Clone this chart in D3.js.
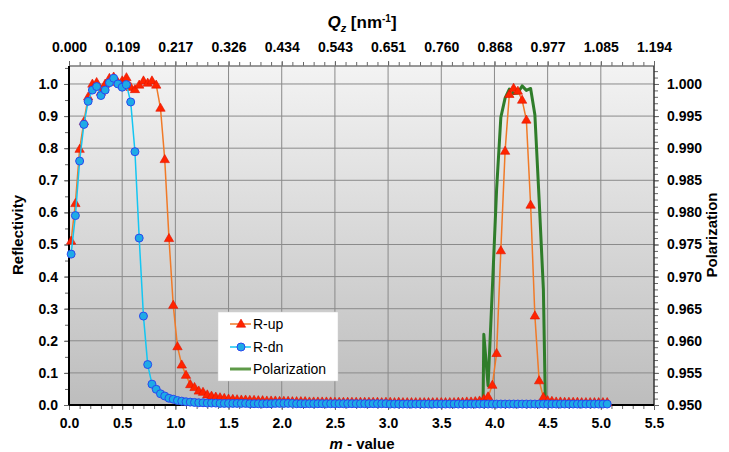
<!DOCTYPE html>
<html>
<head>
<meta charset="utf-8">
<script src="https://cdn.jsdelivr.net/npm/d3@7"></script>
<style>
  body { margin: 0; background: #fff; }
  svg text { font-family: "Liberation Sans", Arial, Helvetica, sans-serif; fill: #000; }
  .tick text { font-weight: bold; font-size: 14px; }
  .tick line { stroke: #666; }
  .domain { display: none; }
</style>
</head>
<body>
<div class="chart"></div>
<script>
const WIDTH = 729;
const HEIGHT = 452;
const LEFT = 69, RIGHT = 654, TOP = 66, BOTTOM = 405;

// measurement points (m - value)
var mValues = [
  0.02,0.06,0.10,0.14,0.18,0.22,0.26,0.30,0.34,0.38,
  0.42,0.46,0.50,0.54,0.58,0.62,0.66,0.70,0.74,0.78,
  0.82,0.86,0.90,0.94,0.98,1.02,1.06,1.10,1.14,1.18,
  1.22,1.26,1.30,1.34,1.38,1.42,1.46,1.50,1.54,1.58,
  1.62,1.66,1.70,1.74,1.78,1.82,1.86,1.90,1.94,1.98,
  2.02,2.06,2.10,2.14,2.18,2.22,2.26,2.30,2.34,2.38,
  2.42,2.46,2.50,2.54,2.58,2.62,2.66,2.70,2.74,2.78,
  2.82,2.86,2.90,2.94,2.98,3.02,3.06,3.10,3.14,3.18,
  3.22,3.26,3.30,3.34,3.38,3.42,3.46,3.50,3.54,3.58,
  3.62,3.66,3.70,3.74,3.78,3.82,3.86,3.90,3.94,3.98,
  4.02,4.06,4.10,4.14,4.18,4.22,4.26,4.30,4.34,4.38,
  4.42,4.46,4.50,4.54,4.58,4.62,4.66,4.70,4.74,4.78,
  4.82,4.86,4.90,4.94,4.98,5.02,5.06
];

var rUp = [
  0.511,0.628,0.797,0.883,0.960,1.000,1.005,0.975,1.000,1.018,
  1.022,1.005,1.010,1.020,0.990,0.983,0.997,1.010,1.003,1.010,
  0.997,0.925,0.765,0.519,0.311,0.182,0.125,0.093,0.064,0.055,
  0.044,0.040,0.032,0.028,0.025,0.023,0.021,0.019,0.018,0.017,
  0.016,0.016,0.015,0.015,0.014,0.014,0.013,0.013,0.013,0.012,
  0.012,0.012,0.011,0.011,0.011,0.011,0.010,0.010,0.010,0.010,
  0.010,0.010,0.009,0.009,0.009,0.009,0.009,0.009,0.009,0.009,
  0.009,0.009,0.009,0.008,0.009,0.009,0.008,0.009,0.008,0.008,
  0.008,0.008,0.008,0.008,0.008,0.008,0.008,0.008,0.008,0.008,
  0.008,0.009,0.009,0.010,0.010,0.011,0.013,0.018,0.026,0.062,
  0.161,0.481,0.791,0.968,0.987,0.978,0.950,0.888,0.623,0.278,
  0.076,0.024,0.014,0.012,0.010,0.010,0.009,0.009,0.009,0.009,
  0.008,0.008,0.008,0.008,0.008,0.008,0.008
];

var rDn = [
  0.470,0.590,0.760,0.874,0.946,0.981,0.992,0.964,0.981,1.004,
  1.018,1.000,0.990,0.998,0.944,0.789,0.520,0.277,0.126,0.065,
  0.049,0.035,0.028,0.021,0.018,0.014,0.012,0.010,0.009,0.008,
  0.007,0.007,0.006,0.006,0.006,0.005,0.005,0.005,0.005,0.005,
  0.005,0.005,0.004,0.004,0.004,0.004,0.004,0.004,0.005,0.005,
  0.005,0.005,0.005,0.004,0.004,0.004,0.004,0.004,0.004,0.004,
  0.004,0.004,0.004,0.004,0.004,0.004,0.004,0.004,0.004,0.004,
  0.004,0.004,0.004,0.004,0.004,0.003,0.003,0.003,0.003,0.003,
  0.003,0.003,0.003,0.003,0.003,0.003,0.003,0.003,0.003,0.003,
  0.003,0.003,0.003,0.003,0.003,0.003,0.003,0.003,0.003,0.003,
  0.003,0.003,0.003,0.003,0.003,0.003,0.003,0.003,0.003,0.003,
  0.003,0.003,0.003,0.003,0.003,0.003,0.003,0.003,0.003,0.003,
  0.003,0.003,0.003,0.003,0.003,0.003,0.003
];

// polarization only rises above 0.95 around the second peak
var polM = [3.86,3.90,3.94,3.98,4.02,4.06,4.10,4.14,4.18,4.22,4.26,4.30,4.34,4.38,4.42,4.46,4.50];
var polValues = [0.900,0.961,0.953,0.968,0.9835,0.9948,0.9978,0.9992,0.9985,0.9986,0.9997,0.9990,0.9993,0.9952,0.9820,0.9680,0.930];

var xTicks = [0,0.5,1.0,1.5,2.0,2.5,3.0,3.5,4.0,4.5,5.0,5.5];
var qzLabels = ["0.000","0.109","0.217","0.326","0.434","0.543","0.651","0.760","0.868","0.977","1.085","1.194"];
var yTicks = [0,0.1,0.2,0.3,0.4,0.5,0.6,0.7,0.8,0.9,1.0];
var pTicks = [0.950,0.955,0.960,0.965,0.970,0.975,0.980,0.985,0.990,0.995,1.000];

var xScale = d3.scaleLinear().domain([0, 5.5]).range([LEFT, RIGHT]);
var yScale = d3.scaleLinear().domain([0, 1.056]).range([BOTTOM, TOP]);
var pScale = d3.scaleLinear().domain([0.95, 1.0028]).range([BOTTOM, TOP]);

var translate = function (x, y) {
  return 'translate(' + x + ',' + y + ')';
};

var svg = d3.select('.chart').append('svg')
  .attr('width', WIDTH)
  .attr('height', HEIGHT);

var defs = svg.append('defs');
var grad = defs.append('linearGradient').attr('id', 'bg')
  .attr('x1', 0).attr('y1', 0).attr('x2', 0).attr('y2', 1);
grad.append('stop').attr('offset', '0%').attr('stop-color', '#f3f3f3');
grad.append('stop').attr('offset', '100%').attr('stop-color', '#bdbdbd');

defs.append('clipPath').attr('id', 'plotClip')
  .append('rect')
  .attr('x', LEFT).attr('y', TOP)
  .attr('width', RIGHT - LEFT).attr('height', BOTTOM - TOP);

// plot background
svg.append('rect')
  .attr('x', LEFT).attr('y', TOP)
  .attr('width', RIGHT - LEFT).attr('height', BOTTOM - TOP)
  .attr('fill', 'url(#bg)');

// grid
var grid = svg.append('g').attr('stroke', '#8a8a8a').attr('stroke-width', 1);
grid.selectAll('.vg').data(xTicks.slice(1, -1)).enter().append('line')
  .attr('x1', d => xScale(d)).attr('x2', d => xScale(d))
  .attr('y1', TOP).attr('y2', BOTTOM);
grid.selectAll('.hg').data(yTicks.slice(1)).enter().append('line')
  .attr('x1', LEFT).attr('x2', RIGHT)
  .attr('y1', d => yScale(d)).attr('y2', d => yScale(d));

// axes: minor ticks first, then major with labels
svg.append('g').attr('transform', translate(0, BOTTOM))
  .call(d3.axisBottom(xScale).tickValues(d3.range(0, 5.51, 0.1)).tickSize(4).tickFormat(''));
svg.append('g').attr('transform', translate(0, BOTTOM))
  .call(d3.axisBottom(xScale).tickValues(xTicks).tickSize(5).tickPadding(8).tickFormat(d3.format('.1f')));

svg.append('g').attr('transform', translate(0, TOP))
  .call(d3.axisTop(xScale).tickValues(d3.range(0, 5.51, 0.1)).tickSize(4).tickFormat(''));
svg.append('g').attr('transform', translate(0, TOP))
  .call(d3.axisTop(xScale).tickValues(xTicks).tickSize(5).tickPadding(9).tickFormat((d, i) => qzLabels[i]));

svg.append('g').attr('transform', translate(LEFT, 0))
  .call(d3.axisLeft(yScale).tickValues(d3.range(0, 1.051, 0.05)).tickSize(4).tickFormat(''));
svg.append('g').attr('transform', translate(LEFT, 0))
  .call(d3.axisLeft(yScale).tickValues(yTicks).tickSize(5).tickPadding(6).tickFormat(d3.format('.1f')));

svg.append('g').attr('transform', translate(RIGHT, 0))
  .call(d3.axisRight(pScale).tickValues(d3.range(0.95, 1.0025, 0.001)).tickSize(4).tickFormat(''));
svg.append('g').attr('transform', translate(RIGHT, 0))
  .call(d3.axisRight(pScale).tickValues(pTicks).tickSize(5).tickPadding(8).tickFormat(d3.format('.3f')));

// frame
svg.append('line').attr('x1', LEFT).attr('x2', RIGHT).attr('y1', TOP).attr('y2', TOP)
  .attr('stroke', '#777').attr('stroke-width', 1.5);
svg.append('line').attr('x1', RIGHT).attr('x2', RIGHT).attr('y1', TOP).attr('y2', BOTTOM)
  .attr('stroke', '#333').attr('stroke-width', 1.5);
svg.append('line').attr('x1', LEFT).attr('x2', LEFT).attr('y1', TOP).attr('y2', BOTTOM)
  .attr('stroke', '#000').attr('stroke-width', 2);
svg.append('line').attr('x1', LEFT).attr('x2', RIGHT).attr('y1', BOTTOM).attr('y2', BOTTOM)
  .attr('stroke', '#000').attr('stroke-width', 2);

// series
var triangle = d3.symbol().type(d3.symbolTriangle).size(38);

var polLine = d3.line()
  .x((d, i) => xScale(polM[i]))
  .y(d => pScale(d));
svg.append('path')
  .attr('clip-path', 'url(#plotClip)')
  .attr('d', polLine(polValues))
  .attr('fill', 'none')
  .attr('stroke', '#2f7d2a')
  .attr('stroke-width', 3)
  .attr('stroke-linejoin', 'round');

var upLine = d3.line()
  .x((d, i) => xScale(mValues[i]))
  .y(d => yScale(d));
svg.append('path')
  .attr('d', upLine(rUp))
  .attr('fill', 'none')
  .attr('stroke', '#f07a28')
  .attr('stroke-width', 1.5);
svg.append('g').selectAll('path').data(rUp)
  .enter().append('path')
  .attr('d', triangle)
  .attr('transform', (d, i) => translate(xScale(mValues[i]), yScale(d) + 0.5))
  .attr('fill', '#ff2400')
  .attr('stroke', '#e01000')
  .attr('stroke-width', 0.6);

var dnLine = d3.line()
  .x((d, i) => xScale(mValues[i]))
  .y(d => yScale(d));
svg.append('path')
  .attr('d', dnLine(rDn))
  .attr('fill', 'none')
  .attr('stroke', '#14c6f2')
  .attr('stroke-width', 1.5);
svg.append('g').selectAll('circle').data(rDn)
  .enter().append('circle')
  .attr('cx', (d, i) => xScale(mValues[i]))
  .attr('cy', d => yScale(d))
  .attr('r', 4)
  .attr('fill', '#1eaae6')
  .attr('stroke', '#2a48ee')
  .attr('stroke-width', 1);

// legend
var legend = svg.append('g').attr('transform', translate(218, 312));
legend.append('rect')
  .attr('width', 120).attr('height', 69)
  .attr('fill', '#fff').attr('stroke', '#d0d0d0').attr('stroke-width', 0.5);
var legendItems = [
  { label: 'R-up', color: '#f07a28', width: 1.5, y: 12 },
  { label: 'R-dn', color: '#14c6f2', width: 1.5, y: 35 },
  { label: 'Polarization', color: '#5e9a48', width: 3, y: 57 }
];
legendItems.forEach(function (it) {
  legend.append('line')
    .attr('x1', 12).attr('x2', 33).attr('y1', it.y).attr('y2', it.y)
    .attr('stroke', it.color).attr('stroke-width', it.width);
  legend.append('text')
    .attr('x', 35).attr('y', it.y + 5)
    .attr('font-size', 14)
    .text(it.label);
});
legend.append('path').attr('d', triangle)
  .attr('transform', translate(23, 12.5))
  .attr('fill', '#ff2400').attr('stroke', '#e01000').attr('stroke-width', 0.6);
legend.append('circle').attr('cx', 23).attr('cy', 35).attr('r', 4)
  .attr('fill', '#1eaae6').attr('stroke', '#2a48ee');

// titles
var qz = svg.append('text')
  .attr('x', 362).attr('y', 28)
  .attr('text-anchor', 'middle')
  .attr('font-size', 17).attr('font-weight', 'bold');
qz.append('tspan').attr('font-style', 'italic').text('Q');
qz.append('tspan').attr('font-style', 'italic').attr('font-size', 11).attr('dy', 4).text('z');
qz.append('tspan').attr('dy', -4).text(' [nm');
qz.append('tspan').attr('font-size', 10).attr('dy', -6).text('-1');
qz.append('tspan').attr('dy', 6).text(']');

var mv = svg.append('text')
  .attr('x', 362).attr('y', 449)
  .attr('text-anchor', 'middle')
  .attr('font-size', 15).attr('font-weight', 'bold');
mv.append('tspan').attr('font-style', 'italic').text('m');
mv.append('tspan').text(' - value');

svg.append('text')
  .attr('transform', translate(23, 235) + ' rotate(-90)')
  .attr('text-anchor', 'middle')
  .attr('font-size', 15).attr('font-weight', 'bold')
  .text('Reflectivity');

svg.append('text')
  .attr('transform', translate(717, 235) + ' rotate(-90)')
  .attr('text-anchor', 'middle')
  .attr('font-size', 15).attr('font-weight', 'bold')
  .text('Polarization');
</script>
</body>
</html>
